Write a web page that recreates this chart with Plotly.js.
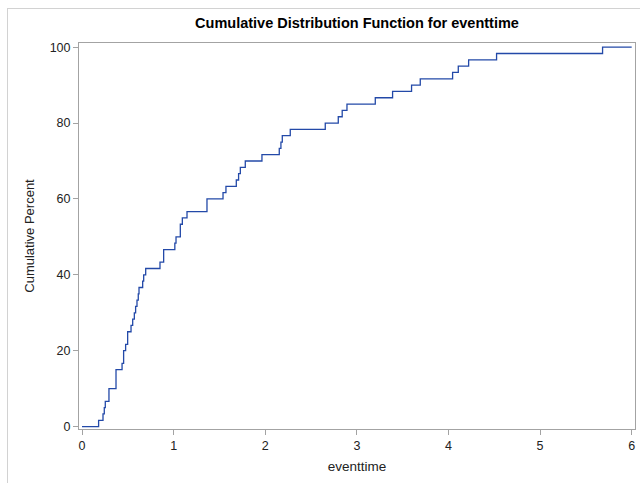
<!DOCTYPE html>
<html>
<head>
<meta charset="utf-8">
<script src="https://cdn.plot.ly/plotly-3.0.1.min.js"></script>
<style>
  html, body { margin: 0; padding: 0; background: #ffffff; }
  #chart { position: absolute; left: 0; top: 0; width: 640px; height: 483px; }
  #outline {
    position: absolute; left: 7px; top: 8px; width: 700px; height: 600px;
    border-left: 1px solid #d2d2d2; border-top: 1px solid #d2d2d2;
    pointer-events: none;
  }
</style>
</head>
<body>
<div id="chart"></div>
<div id="outline"></div>
<script>
// Empirical CDF of eventtime (n = 60): jump locations and cumulative percent after each jump
const eventTime = [
  0.181, 0.229, 0.243, 0.254, 0.294, 0.371, 0.437, 0.454, 0.476, 0.498,
  0.535, 0.553, 0.571, 0.585, 0.600, 0.614, 0.622, 0.662, 0.673, 0.695,
  0.851, 0.891, 1.013, 1.026, 1.073, 1.095, 1.146, 1.364, 1.539, 1.571,
  1.684, 1.709, 1.728, 1.782, 1.964, 2.153, 2.171, 2.186, 2.273, 2.655,
  2.797, 2.840, 2.892, 3.201, 3.390, 3.597, 3.692, 4.045, 4.107, 4.220,
  4.525, 5.682
];
const cumPercent = [
  1.667, 3.333, 5.0, 6.667, 10.0, 15.0, 16.667, 20.0, 21.667, 25.0,
  26.667, 28.333, 30.0, 31.667, 33.333, 35.0, 36.667, 38.333, 40.0, 41.667,
  43.333, 46.667, 48.333, 50.0, 53.333, 55.0, 56.667, 60.0, 61.667, 63.333,
  65.0, 66.667, 68.333, 70.0, 71.667, 73.333, 75.0, 76.667, 78.333, 80.0,
  81.667, 83.333, 85.0, 86.667, 88.333, 90.0, 91.667, 93.333, 95.0, 96.667,
  98.333, 100.0
];
const xTicks = [0, 1, 2, 3, 4, 5, 6];
const yTicks = [0, 20, 40, 60, 80, 100];
const xStart = 0;   // curve starts at 0% on the left end of the axis
const xEnd = 6;     // and stays at 100% to the right end

const xs = [xStart].concat(eventTime, [xEnd]);
const ys = [0].concat(cumPercent, [cumPercent[cumPercent.length - 1]]);

const font = "'Liberation Sans', Arial, sans-serif";

const trace = {
  x: xs, y: ys,
  type: 'scatter', mode: 'lines',
  line: { shape: 'hv', color: '#2349a8', width: 1.3 },
  hoverinfo: 'x+y'
};

const axisCommon = {
  showgrid: false, zeroline: false,
  showline: true, mirror: true, linecolor: '#a3a3a3', linewidth: 1,
  ticks: 'outside', ticklen: 5, tickcolor: '#a3a3a3', tickwidth: 1,
  tickfont: { family: font, size: 12.5, color: '#222222' }
};

const layout = {
  width: 640, height: 483,
  margin: { l: 79, r: 5, t: 43, b: 54 },
  paper_bgcolor: '#ffffff', plot_bgcolor: '#ffffff',
  showlegend: false,
  title: {
    text: 'Cumulative Distribution Function for eventtime',
    font: { family: font, size: 14.5, color: '#000000', weight: 'bold' },
    x: 0.5, xref: 'paper', xanchor: 'center',
    y: 1, yref: 'container', yanchor: 'top', pad: { t: 18 }
  },
  xaxis: Object.assign({}, axisCommon, {
    range: [-0.033, 6.036],
    tickvals: xTicks,
    title: { text: 'eventtime', font: { family: font, size: 13.5, color: '#222222' }, standoff: 9 }
  }),
  yaxis: Object.assign({}, axisCommon, {
    range: [-0.63, 101.1],
    tickvals: yTicks,
    title: { text: 'Cumulative Percent', font: { family: font, size: 13, color: '#222222' }, standoff: 12 }
  })
};

Plotly.newPlot('chart', [trace], layout, { displayModeBar: false, staticPlot: true });
</script>
</body>
</html>
